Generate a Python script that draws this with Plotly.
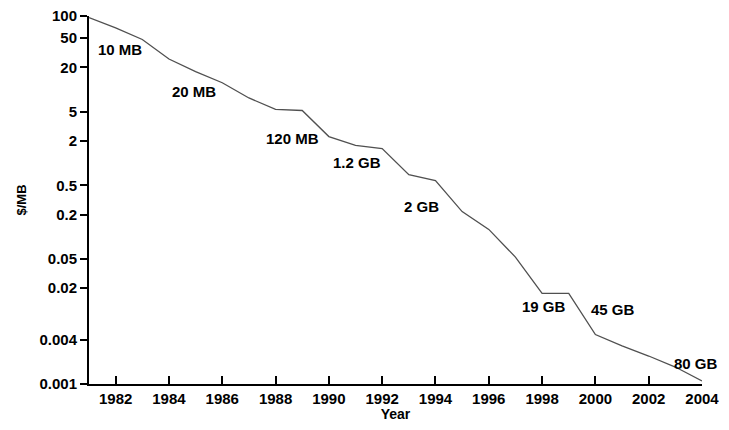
import math
import plotly.graph_objects as go

years = list(range(1981, 2005))
price_per_mb = [95, 69, 48, 26, 17.5, 12.4, 7.7, 5.4, 5.2, 2.3, 1.75, 1.58,
                0.70, 0.58, 0.22, 0.126, 0.053, 0.017, 0.017, 0.0047, 0.0033,
                0.0024, 0.0017, 0.0011]

y_tick_vals = [100, 50, 20, 5, 2, 0.5, 0.2, 0.05, 0.02, 0.004, 0.001]
y_tick_text = ["100", "50", "20", "5", "2", "0.5", "0.2", "0.05", "0.02", "0.004", "0.001"]
x_tick_vals = list(range(1982, 2005, 2))

label_years = [1982, 1985, 1989, 1991, 1994, 1998, 2000, 2004]
label_texts = ["10 MB", "20 MB", "120 MB", "1.2 GB", "2 GB", "19 GB", "45 GB", "80 GB"]
label_offsets = [(4, -22), (-2, -20), (-10, -28), (1, -17), (-14, -26), (2, -13), (18, 25), (-6, 17)]

FAMILY = "Liberation Sans, Arial, sans-serif"

fig = go.Figure()
fig.add_trace(go.Scatter(
    x=years, y=price_per_mb, mode="lines",
    line=dict(color="#505050", width=1.3),
    showlegend=False, hoverinfo="x+y",
))

price_lookup = dict(zip(years, price_per_mb))
for yr, txt, (dx, dy) in zip(label_years, label_texts, label_offsets):
    fig.add_annotation(
        x=yr, y=math.log10(price_lookup[yr]), yref="y", xref="x",
        text=txt, showarrow=False, xshift=dx, yshift=dy,
        font=dict(family=FAMILY, size=15, color="black", weight="bold"),
    )

font = dict(family=FAMILY, size=15, color="black", weight="bold")
fig.update_layout(
    width=713, height=414,
    margin=dict(l=81, r=19, t=8, b=38, autoexpand=False),
    plot_bgcolor="white", paper_bgcolor="white",
    font=font,
    xaxis=dict(
        range=[1981, 2004], tickvals=x_tick_vals, ticks="inside", ticklen=8,
        tickwidth=1.5, tickcolor="black", showline=True, linecolor="black",
        linewidth=2, showgrid=False, zeroline=False, tickfont=font,
        ticklabeloverflow="allow", automargin=False,
        title=dict(text="Year", font=dict(family=FAMILY, size=14, color="black", weight="bold"), standoff=4),
    ),
    yaxis=dict(
        type="log", range=[-3, 2], tickvals=y_tick_vals, ticktext=y_tick_text,
        ticks="outside", ticklen=7, tickwidth=1.5, tickcolor="black",
        showline=True, linecolor="black", linewidth=2, showgrid=False,
        zeroline=False, tickfont=font, ticklabeloverflow="allow", automargin=False,
        title=dict(text="$/MB", font=dict(family=FAMILY, size=13, color="black", weight="bold"), standoff=10),
    ),
)

fig.write_html("out.html")
